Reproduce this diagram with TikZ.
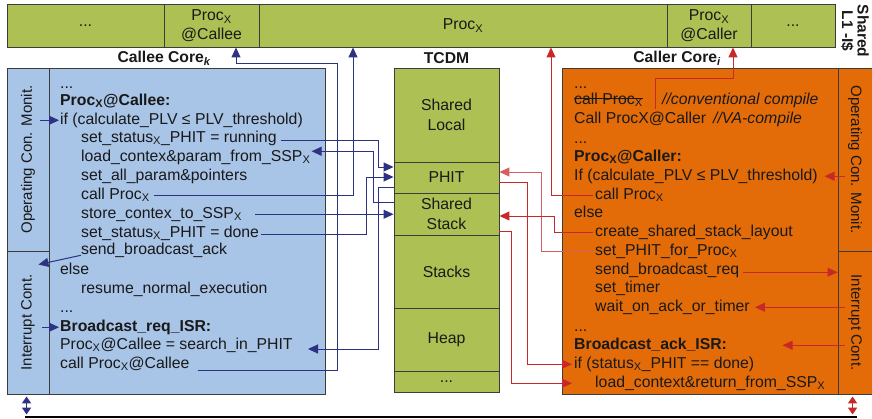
\documentclass[tikz,border=0pt]{standalone}
\usepackage{fontspec}
\setmainfont{Liberation Sans}
\usetikzlibrary{arrows.meta,calc}
\definecolor{grn}{RGB}{172,192,84}
\definecolor{lblue}{RGB}{168,196,230}
\definecolor{orng}{RGB}{227,108,9}
\definecolor{navy}{RGB}{45,50,130}
\definecolor{redA}{RGB}{200,40,40}
\definecolor{redB}{RGB}{215,95,95}
\definecolor{bord}{RGB}{60,60,60}
\definecolor{txtc}{RGB}{25,25,25}
\newcommand\xs{\textsubscript{X}}
\newsavebox\mystrikebox
\newcommand\mystrike[1]{\sbox\mystrikebox{#1}\rlap{\usebox\mystrikebox}\rule[0.3em]{\wd\mystrikebox}{1pt}}
\newcommand\mycodefont{\fontsize{15.8}{18.5}\selectfont}
\newcommand\mymemfont{\fontsize{15.8}{20.5}\selectfont}
\newcommand\mysidefont{\fontsize{15}{18}\selectfont}
\newcommand\mylblfont{\fontsize{15.7}{18}\selectfont\bfseries}
\begin{document}
\begin{tikzpicture}[x=1pt,y=-1pt,
  every node/.style={text=txtc},
  txt/.style={anchor=base west, inner sep=0pt, font=\mycodefont, text height=11pt, text depth=3.5pt},
  box/.style={draw=bord, line width=0.9pt, inner sep=0pt},
  cell/.style={box, fill=grn, minimum height=43pt, align=center, font=\mycodefont},
  mem/.style={box, fill=grn, minimum width=105pt, align=center, font=\mymemfont},
  side/.style={inner sep=0pt, font=\mysidefont},
  lbl/.style={font=\mylblfont, inner sep=0pt},
  bl/.style={draw=navy, line width=1pt, -{Triangle[length=10pt,width=9pt]}},
  rd/.style={draw=redA, line width=1pt, -{Triangle[length=10pt,width=9pt]}},
  rdl/.style={rd, draw=redB},
  dbl/.style={line width=1.8pt, {Triangle[length=7pt,width=9pt]}-{Triangle[length=7pt,width=9pt]}}
]
\useasboundingbox (0,0) rectangle (872,418);

% top bar
\node[cell, minimum width=157pt] (c1) at (85.5,25.5) {...};
\node[cell, minimum width=95pt] (c2) at (211.5,25.5) {Proc\xs\\@Callee};
\node[cell, minimum width=408pt] (c3) at (463,25.5) {Proc\xs};
\node[cell, minimum width=84pt] (c4) at (709,25.5) {Proc\xs\\@Caller};
\node[cell, minimum width=84pt] (c5) at (793,25.5) {...};
\node[lbl, rotate=-90, align=center, font=\fontsize{15.5}{15.5}\selectfont\bfseries] (l1i) at (855,31) {Shared\\L1 -I\$};

% labels
\node[lbl] (calleeL) at (164,58) {Callee Core\textsubscript{\itshape k}};
\node[lbl] (tcdmL) at (446.5,58) {TCDM};
\node[lbl] (callerL) at (677,58) {Caller Core\textsubscript{\itshape i}};

% left box
\node[box, fill=lblue, minimum width=318pt, minimum height=326pt] (lbox) at (166,231) {};
\node[box, minimum width=42pt, minimum height=183pt] (opL) at (28,159.5) {};
\node[box, minimum width=42pt, minimum height=143pt] (intL) at (28,322.5) {};
\node[side, rotate=90] (opLt) at (opL.center) {Operating Con. Monit.};
\node[side, rotate=90] (intLt) at (intL.center) {Interrupt Cont.};

% right box
\node[box, fill=orng, minimum width=313pt, minimum height=326pt] (rbox) at (718.5,231) {};
\node[box, minimum width=37pt, minimum height=183pt] (opR) at (856.5,159.5) {};
\node[box, minimum width=37pt, minimum height=143pt] (intR) at (856.5,322.5) {};
\node[side, rotate=-90] (opRt) at (855,159.5) {Operating Con. Monit.};
\node[side, rotate=-90] (intRt) at (855,322.5) {Interrupt Cont.};

% TCDM
\node[mem, minimum height=94pt] (sloc) at (446.5,115) {Shared\\Local};
\node[mem, minimum height=31pt] (phit) at (446.5,177.5) {PHIT};
\node[mem, minimum height=42pt] (sstack) at (446.5,214) {Shared\\Stack};
\node[mem, minimum height=73pt] (stacks) at (446.5,271.5) {Stacks};
\node[mem, minimum height=63pt] (heap) at (446.5,339.5) {Heap};
\node[mem, minimum height=21pt] (tdots) at (446.5,381.5) {...};

% left code
\node[txt] (L1) at (60,88) {...};
\node[txt] (L2) at (60,105) {\textbf{Proc\xs@Callee:}};
\node[txt] (L3) at (60,124) {if (calculate\_PLV ≤ PLV\_threshold)};
\node[txt] (L4) at (81,142) {set\_status\xs\_PHIT = running};
\node[txt] (L5) at (81,161) {load\_contex\&param\_from\_SSP\xs};
\node[txt] (L6) at (81,180) {set\_all\_param\&pointers};
\node[txt] (L7) at (81,199) {call Proc\xs};
\node[txt] (L8) at (81,218) {store\_contex\_to\_SSP\xs};
\node[txt] (L9) at (81,237) {set\_status\xs\_PHIT = done};
\node[txt] (L10) at (81,254) {send\_broadcast\_ack};
\node[txt] (L11) at (60,274) {else};
\node[txt] (L12) at (81,293) {resume\_normal\_execution};
\node[txt] (L13) at (60,312) {...};
\node[txt] (L14) at (60,331) {\textbf{Broadcast\_req\_ISR:}};
\node[txt] (L15) at (60,349) {Proc\xs@Callee = search\_in\_PHIT};
\node[txt] (L16) at (60,368) {call Proc\xs@Callee};

% right code
\node[txt] (R1) at (574,88) {...};
\node[txt] (R2) at (574,104) {\mystrike{call Proc\xs}};
\node[txt] (R2b) at (662,104) {\textit{//conventional compile}};
\node[txt] (R3) at (574,123) {Call ProcX@Caller};
\node[txt] (R3b) at (713,123) {\textit{//VA-compile}};
\node[txt] (R4) at (574,143) {...};
\node[txt] (R5) at (574,161) {\textbf{Proc\xs@Caller:}};
\node[txt] (R6) at (574,180) {If (calculate\_PLV ≤ PLV\_threshold)};
\node[txt] (R7) at (595,199) {call Proc\xs};
\node[txt] (R8) at (574,217) {else};
\node[txt] (R9) at (595,236) {create\_shared\_stack\_layout};
\node[txt] (R10) at (595,255) {set\_PHIT\_for\_Proc\xs};
\node[txt] (R11) at (595,274) {send\_broadcast\_req};
\node[txt] (R12) at (595,292) {set\_timer};
\node[txt] (R13) at (595,311) {wait\_on\_ack\_or\_timer};
\node[txt] (R14) at (574,331) {...};
\node[txt] (R15) at (574,349) {\textbf{Broadcast\_ack\_ISR:}};
\node[txt] (R16) at (574,368) {if (status\xs\_PHIT == done)};
\node[txt] (R17) at (595,387) {load\_context\&return\_from\_SSP\xs};

% blue connectors
\coordinate (k4) at (378,167);
\draw[bl] ([xshift=4pt,yshift=-2pt]L4.east) -| (k4) -- (k4 -| phit.west);
\coordinate (k5) at (373,202);
\draw[bl] (k5 -| sstack.west) -- (k5) |- ([xshift=1pt,yshift=6pt]L5.east);
\draw[bl] ([xshift=4pt]L7.east) -| ([xshift=-110pt]c3.south);
\draw[bl] ([xshift=13pt]L8.east) -- (L8.east -| sstack.west);
\coordinate (k6) at (366,177);
\draw[bl] ([xshift=2pt,yshift=-1pt]L9.east) -| (k6) -- (k6 -| phit.west);
\coordinate (k7) at (378,349);
\draw[bl] ([yshift=-9.5pt]phit.west) -| (k7) -- ++(-70,0);
\coordinate (k8) at (337,63);
\draw[bl] ([xshift=8pt,yshift=-6pt]L16.east) -| (k8) -| ([xshift=24.5pt]c2.south);
\draw[bl] ($(opL.east |- L3.west)+(-9,0)$) -- ([xshift=-1pt]L3.west);
\draw[bl] ([yshift=-5pt]L10.west) -- ($(intL.north east)+(-11,14)$);
\draw[bl] ($(intL.east |- L14.west)+(-7,0)$) -- ([xshift=-1pt]L14.west);

% red connectors
\coordinate (k1) at (733,78);
\draw[rd] ([xshift=81pt,yshift=3pt]R3.north west) |- (k1) -- ([xshift=24pt]c4.south);
\draw[rd] ([xshift=-2pt]R7.west) -| ([xshift=88pt]c3.south);
\draw[rd] ([yshift=-4.5pt]phit.east) -| ([xshift=-47pt]R16.west) -- ([xshift=-2pt]R16.west);
\draw[rd] ([yshift=-17pt]sstack.east) -| ([xshift=-84pt]R17.west) -- ([xshift=-23pt]R17.west);
\coordinate (k2) at (541,172);
\draw[rdl] ([xshift=-2pt]R10.west) -| (k2) -- (k2 -| phit.east);
\coordinate (k3) at (554,216);
\draw[rd] ([xshift=-2pt]R9.west) -| (k3) -- (k3 -| sstack.east);
\draw[rd] ([xshift=4pt,yshift=-2pt]R11.east) -- ($(R11.east -| intR.west)+(0,2)$);
\draw[rd] ($(intR.west |- R13.east)+(7,0)$) -- ([xshift=5pt]R13.east);
\draw[rd] ($(intR.west |- R15.east)+(7,0)$) -- ($(intR.west |- R15.east)+(-55,0)$);
\draw[rd] ($(opR.west |- R6.east)+(7,0)$) -- ($(opR.west |- R6.east)+(-13,0)$);

% bus
\coordinate (busA) at (25,417);
\coordinate (busB) at (857,417);
\draw[line width=2.5pt, black] (busA) -- (busB);
\draw[dbl, navy] ([xshift=20pt,yshift=-2pt]lbox.south west) -- ($(lbox.south west |- busA)+(20,-2.5)$);
\draw[dbl, redA] ([xshift=291pt,yshift=-2pt]rbox.south west) -- ($(rbox.south west |- busA)+(291,-2.5)$);
\end{tikzpicture}
\end{document}
